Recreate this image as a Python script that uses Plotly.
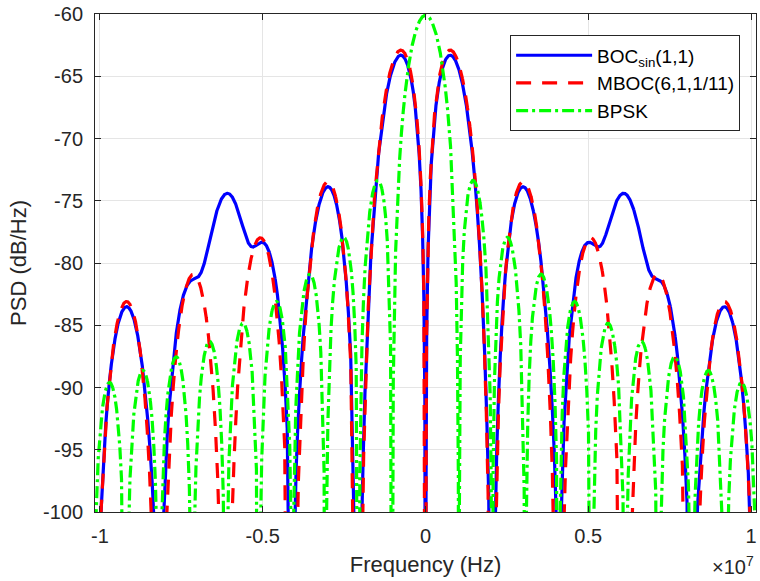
import numpy as np
import plotly.graph_objects as go

# ---- chart data (signal definitions) ----
chip_rate = 1.023e6                 # reference chip rate (Hz)
freq_limits = [-1.0153e7, 1.0153e7]  # plotted frequency span (Hz)
n_samples = 40000
mboc_weights = [10 / 11, 1 / 11]     # weights of BOC(1,1) and BOC(6,1) in MBOC(6,1,1/11)
series_names = ["BOC<sub>sin</sub>(1,1)", "MBOC(6,1,1/11)", "BPSK"]
series_colors = ["#0000ff", "#ff0000", "#00ff00"]
y_ticks = [-100, -95, -90, -85, -80, -75, -70, -65, -60]
y_tick_labels = ["-100", "-95", "-90", "-85", "-80", "-75", "-70", "-65", "-60"]
x_ticks = [-1e7, -0.5e7, 0, 0.5e7, 1e7]
x_tick_labels = ["-1", "-0.5", "0", "0.5", "1"]

# ---- PSD curves ----
f = np.linspace(freq_limits[0], freq_limits[1], n_samples)
Tc = 1.0 / chip_rate
x = f * Tc
eps = 1e-30


def bpsk_psd(x):
    return Tc * np.sinc(x) ** 2


def boc_sin_psd(m, n, x):
    # even N = 2m/n
    fs_ratio = m / n
    return Tc / n * (np.sin(np.pi * x / n) * np.tan(np.pi * x / (2 * fs_ratio * n)) / (np.pi * x / n + eps)) ** 2


psd_boc11 = boc_sin_psd(1, 1, x)
psd_boc61 = boc_sin_psd(6, 1, x)
psd_mboc = mboc_weights[0] * psd_boc11 + mboc_weights[1] * psd_boc61
psd_bpsk = bpsk_psd(x)


def to_db(p):
    return 10 * np.log10(np.maximum(p, 1e-20))


# curve labelled BOCsin(1,1) in the figure carries the MBOC shape and vice versa
curves = [to_db(psd_mboc), to_db(psd_boc11), to_db(psd_bpsk)]
dashes = ["solid", "15px,11px", "12px,4px,3px,4px"]

fig = go.Figure()
for name, y, color, dash in zip(series_names, curves, series_colors, dashes):
    fig.add_trace(go.Scatter(x=f, y=y, mode="lines", name=name,
                             line=dict(color=color, width=3.2, dash=dash)))

font_family = "Liberation Sans, Arial, Helvetica, sans-serif"
axis_common = dict(
    showline=True, linecolor="#262626", linewidth=1, mirror="ticks",
    ticks="inside", ticklen=6, tickcolor="#262626",
    showgrid=True, gridcolor="#e5e5e5", gridwidth=1, zeroline=False,
    tickfont=dict(family=font_family, size=20, color="#262626"),
)

fig.update_layout(
    width=760, height=581,
    margin=dict(l=95, r=3, t=12, b=69),
    paper_bgcolor="white", plot_bgcolor="white",
    font=dict(family=font_family, size=20, color="#262626"),
    xaxis=dict(range=freq_limits, tickvals=x_ticks, ticktext=x_tick_labels,
               ticklabelstandoff=6,
               title=dict(text="Frequency (Hz)", font=dict(size=22), standoff=10),
               **axis_common),
    yaxis=dict(range=[-100, -60], tickvals=y_ticks, ticktext=y_tick_labels,
               ticklabelstandoff=7,
               title=dict(text="PSD (dB/Hz)", font=dict(size=22), standoff=10),
               **axis_common),
    legend=dict(x=0.628, y=0.957, xanchor="left", yanchor="top",
                bgcolor="white", bordercolor="#262626", borderwidth=1,
                font=dict(family=font_family, size=19, color="#000000"),
                tracegroupgap=0, itemwidth=76),
    showlegend=True,
)

fig.add_annotation(xref="paper", yref="paper", x=1.0, y=-0.136, xanchor="right", yanchor="bottom",
                   text="×10<sup>7</sup>", showarrow=False,
                   font=dict(family=font_family, size=20, color="#262626"))

fig.write_html("out.html")
